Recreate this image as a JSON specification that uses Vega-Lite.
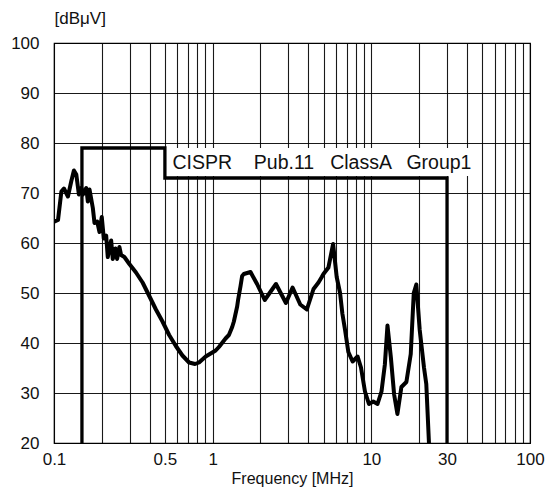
{
  "$schema": "https://vega.github.io/schema/vega-lite/v6.json",
  "width": 476,
  "height": 400,
  "autosize": {"type": "none"},
  "padding": {"left": 54, "top": 43, "right": 22, "bottom": 52},
  "background": "white",
  "config": {
    "view": {"stroke": "#000", "strokeWidth": 1.2},
    "font": "Liberation Sans",
    "axis": {
      "labelFont": "Liberation Sans",
      "titleFont": "Liberation Sans",
      "labelColor": "#111",
      "titleColor": "#111",
      "labelFontSize": 17,
      "titleFontSize": 16,
      "titleFontWeight": "normal",
      "ticks": false,
      "domain": false,
      "grid": true,
      "gridColor": "#000",
      "gridWidth": 1.1,
      "gridOpacity": 0.9,
      "labelOverlap": false,
      "labelFlush": false
    }
  },
  "datasets": {
    "curve": [
      {"f": 0.1, "v": 64.3}, {"f": 0.101, "v": 64.3}, {"f": 0.106, "v": 64.6},
      {"f": 0.1113, "v": 70.3}, {"f": 0.1155, "v": 70.9}, {"f": 0.1224, "v": 69.3},
      {"f": 0.1286, "v": 72.4}, {"f": 0.1335, "v": 74.5}, {"f": 0.1382, "v": 73.7},
      {"f": 0.1435, "v": 69.7}, {"f": 0.1486, "v": 71}, {"f": 0.152, "v": 69.7},
      {"f": 0.1597, "v": 71}, {"f": 0.1634, "v": 68.3}, {"f": 0.1675, "v": 70.7},
      {"f": 0.1757, "v": 67}, {"f": 0.18, "v": 64}, {"f": 0.1872, "v": 64.3},
      {"f": 0.1935, "v": 62.2}, {"f": 0.2, "v": 65.2}, {"f": 0.206, "v": 60.9},
      {"f": 0.2132, "v": 61.5}, {"f": 0.2182, "v": 57.2}, {"f": 0.2292, "v": 60.5},
      {"f": 0.2346, "v": 56.8}, {"f": 0.2438, "v": 58.9}, {"f": 0.2499, "v": 56.8},
      {"f": 0.2583, "v": 59.2}, {"f": 0.2647, "v": 57.6}, {"f": 0.2777, "v": 57.2},
      {"f": 0.2985, "v": 55.8}, {"f": 0.3287, "v": 54.1}, {"f": 0.3616, "v": 52.1},
      {"f": 0.3985, "v": 49.4}, {"f": 0.4389, "v": 46.7}, {"f": 0.4828, "v": 44.3},
      {"f": 0.5318, "v": 41.6}, {"f": 0.586, "v": 39.4}, {"f": 0.6447, "v": 37.5},
      {"f": 0.7101, "v": 36.1}, {"f": 0.7745, "v": 35.8}, {"f": 0.8204, "v": 36.1},
      {"f": 0.904, "v": 37.3}, {"f": 1.0443, "v": 38.5}, {"f": 1.0952, "v": 39.2},
      {"f": 1.2058, "v": 40.9}, {"f": 1.2657, "v": 41.6}, {"f": 1.3274, "v": 43.2},
      {"f": 1.3603, "v": 44.3}, {"f": 1.4267, "v": 47.3}, {"f": 1.4476, "v": 48.7},
      {"f": 1.4987, "v": 51.4}, {"f": 1.5336, "v": 53.4}, {"f": 1.5718, "v": 53.8},
      {"f": 1.7318, "v": 54.2}, {"f": 1.9047, "v": 51.8}, {"f": 2.1288, "v": 48.6},
      {"f": 2.506, "v": 51.8}, {"f": 2.895, "v": 48}, {"f": 3.189, "v": 51.1},
      {"f": 3.565, "v": 47.7}, {"f": 3.922, "v": 46.7}, {"f": 4.321, "v": 50.8},
      {"f": 4.645, "v": 52.1}, {"f": 4.871, "v": 53.2}, {"f": 4.992, "v": 53.8},
      {"f": 5.365, "v": 55.1}, {"f": 5.742, "v": 59.8}, {"f": 6.049, "v": 53.2},
      {"f": 6.353, "v": 50}, {"f": 6.567, "v": 45.9}, {"f": 6.83, "v": 42.6},
      {"f": 7.163, "v": 38.2}, {"f": 7.621, "v": 36.3}, {"f": 8.193, "v": 37.3},
      {"f": 8.605, "v": 35.1}, {"f": 9.117, "v": 30.3}, {"f": 9.659, "v": 27.8},
      {"f": 10.28, "v": 28.3}, {"f": 10.94, "v": 27.8}, {"f": 11.59, "v": 30.3},
      {"f": 12.17, "v": 35.7}, {"f": 12.64, "v": 43.5}, {"f": 13.27, "v": 37.2},
      {"f": 13.92, "v": 29.7}, {"f": 14.6, "v": 25.8}, {"f": 15.47, "v": 31.2},
      {"f": 16.63, "v": 32.2}, {"f": 17.72, "v": 37.8}, {"f": 18.51, "v": 50},
      {"f": 19.21, "v": 51.7}, {"f": 20.18, "v": 42.6}, {"f": 21.47, "v": 35.1},
      {"f": 22.2, "v": 31.8}, {"f": 23.08, "v": 20}
    ],
    "limit": [
      {"o": 1, "f": 0.15, "v": 20}, {"o": 2, "f": 0.15, "v": 79},
      {"o": 3, "f": 0.5, "v": 79}, {"o": 4, "f": 0.5, "v": 73},
      {"o": 5, "f": 30, "v": 73}, {"o": 6, "f": 30, "v": 20}
    ],
    "box": [{"f": 0.5, "f2": 45, "v": 73.4, "v2": 79}],
    "words": [
      {"f": 0.558, "v": 76.1, "w": "CISPR"},
      {"f": 1.816, "v": 76.1, "w": "Pub.11"},
      {"f": 5.499, "v": 76.1, "w": "ClassA"},
      {"f": 16.63, "v": 76.1, "w": "Group1"}
    ]
  },
  "encoding": {
    "x": {
      "field": "f", "type": "quantitative",
      "scale": {"type": "log", "domain": [0.1, 100], "nice": false},
      "axis": {
        "values": [0.1, 0.2, 0.3, 0.4, 0.5, 0.6, 0.7, 0.8, 0.9, 1, 2, 3, 4, 5, 6, 7, 8, 9, 10, 20, 30, 40, 50, 60, 70, 80, 90, 100],
        "labelExpr": "indexof([0.1, 0.5, 1, 10, 30, 100], datum.value) >= 0 ? '' + datum.value : ''",
        "labelPadding": 8,
        "title": "Frequency [MHz]",
        "titlePadding": 3
      }
    },
    "y": {
      "field": "v", "type": "quantitative",
      "scale": {"domain": [20, 100], "nice": false, "zero": false},
      "axis": {
        "values": [20, 30, 40, 50, 60, 70, 80, 90, 100],
        "labelPadding": 15,
        "title": "[dBμV]",
        "titleAngle": 0,
        "titleAlign": "left",
        "titleBaseline": "middle",
        "titleX": 0,
        "titleY": -25,
        "titleFontSize": 17
      }
    }
  },
  "layer": [
    {
      "data": {"name": "box"},
      "mark": {"type": "rect", "fill": "white", "stroke": null},
      "encoding": {"x2": {"field": "f2"}, "y2": {"field": "v2"}}
    },
    {
      "data": {"name": "words"},
      "mark": {"type": "text", "align": "left", "baseline": "middle", "fontSize": 19.5, "font": "Liberation Sans", "color": "#111"},
      "encoding": {"text": {"field": "w"}}
    },
    {
      "data": {"name": "limit"},
      "mark": {"type": "line", "color": "#000", "strokeWidth": 3.3, "strokeJoin": "miter", "strokeCap": "butt"},
      "encoding": {"order": {"field": "o", "type": "quantitative"}}
    },
    {
      "data": {"name": "curve"},
      "mark": {"type": "line", "color": "#000", "strokeWidth": 4, "strokeJoin": "round", "strokeCap": "butt", "clip": true},
      "encoding": {"order": {"field": "f", "type": "quantitative"}}
    }
  ]
}
